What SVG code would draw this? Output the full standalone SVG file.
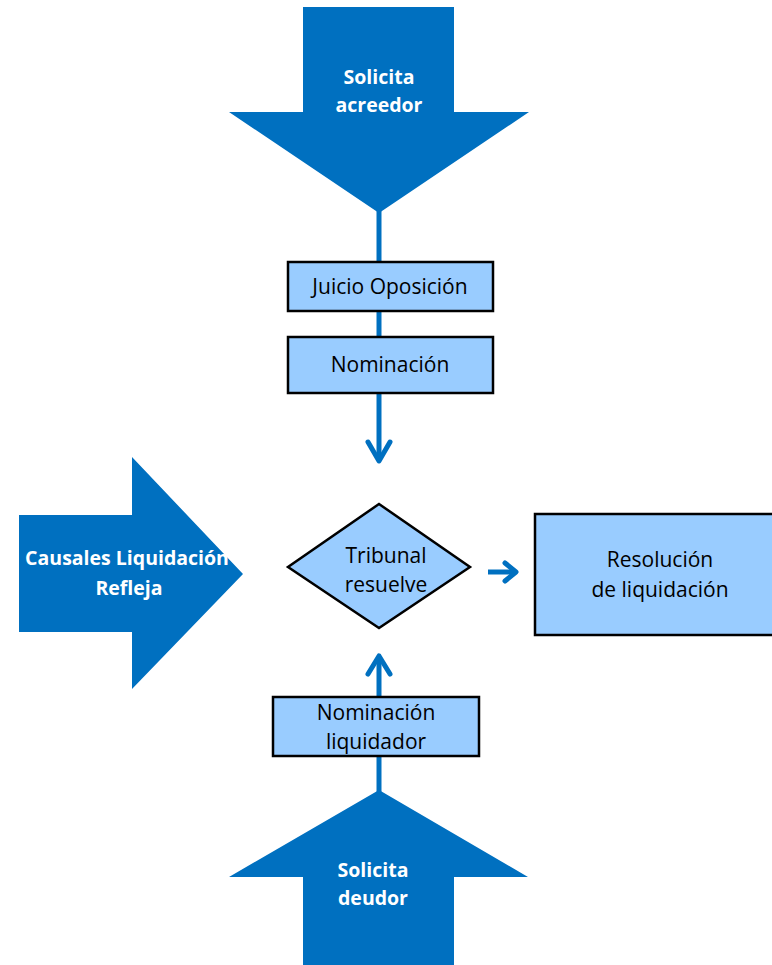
<svg xmlns="http://www.w3.org/2000/svg" width="772" height="965" viewBox="0 0 772 965">
<style>
.big{fill:#0070C0}
.box{fill:#99CCFF;stroke:#000;stroke-width:2.5}
.ln{stroke:#0070C0;stroke-width:5;fill:none}
.hd{stroke:#0070C0;stroke-width:5;fill:none;stroke-linecap:round;stroke-linejoin:round}
.wt{font-family:"Open Sans","Liberation Sans",sans-serif;font-weight:bold;font-size:19.5px;fill:#fff;text-anchor:middle}
.bt{font-family:"Open Sans","Liberation Sans",sans-serif;font-size:21px;fill:#000;text-anchor:middle}
</style>
<rect width="772" height="965" fill="#fff"/>
<g id="connectors">
<line class="ln" x1="379" y1="205" x2="379" y2="262"/>
<line class="ln" x1="379" y1="311" x2="379" y2="337"/>
<line class="ln" x1="379" y1="393" x2="379" y2="461"/>
<polyline class="hd" points="368,442 379,461 390,442"/>
<line class="ln" x1="379" y1="697" x2="379" y2="656"/>
<polyline class="hd" points="368,674 379,656 390,674"/>
<line class="ln" x1="379" y1="756" x2="379" y2="795"/>
<line class="ln" x1="488" y1="572" x2="515" y2="572"/>
<polyline class="hd" points="505,563 516,572 505,581"/>
</g>
<g id="solicita-acreedor">
<polygon class="big" points="303,7 454,7 454,112 529,112 379,213 229,112 303,112"/>
<text class="wt" x="379" y="84">Solicita</text>
<text class="wt" x="379" y="112">acreedor</text>
</g>
<g id="juicio-oposicion">
<rect class="box" x="288" y="262" width="205" height="49"/>
<text class="bt" x="390" y="294">Juicio Oposición</text>
</g>
<g id="nominacion">
<rect class="box" x="288" y="337" width="205" height="56"/>
<text class="bt" x="390" y="372">Nominación</text>
</g>
<g id="causales">
<polygon class="big" points="19,515 132,515 132,457 243,574 132,689 132,632 19,632"/>
<text class="wt" x="127" y="565">Causales Liquidación</text>
<text class="wt" x="129" y="595">Refleja</text>
</g>
<g id="tribunal">
<polygon class="box" points="379,504 470,567 379,628 288,567"/>
<text class="bt" x="386" y="563">Tribunal</text>
<text class="bt" x="386" y="592">resuelve</text>
</g>
<g id="resolucion">
<rect class="box" x="535" y="514" width="240" height="121"/>
<text class="bt" x="660" y="567">Resolución</text>
<text class="bt" x="660" y="597">de liquidación</text>
</g>
<g id="nominacion-liquidador">
<rect class="box" x="273" y="697" width="206" height="59"/>
<text class="bt" x="376" y="720">Nominación</text>
<text class="bt" x="376" y="749">liquidador</text>
</g>
<g id="solicita-deudor">
<polygon class="big" points="379,790 528,877 454,877 454,965 303,965 303,877 229,877"/>
<text class="wt" x="373" y="877">Solicita</text>
<text class="wt" x="373" y="905">deudor</text>
</g>
</svg>
